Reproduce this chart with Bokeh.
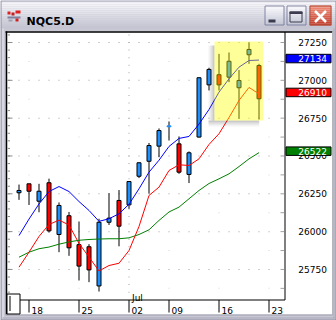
import datetime as dt
from bokeh.plotting import figure
from bokeh.models import Range1d
from bokeh.core.properties import value
from bokeh.embed import file_html
from bokeh.resources import INLINE

# ---------------- data ----------------
TITLE = "NQC5.D"
DATES = ["2018-06-15", "2018-06-18", "2018-06-19", "2018-06-20", "2018-06-21", "2018-06-22",
         "2018-06-25", "2018-06-26", "2018-06-27", "2018-06-28", "2018-06-29",
         "2018-07-02", "2018-07-03", "2018-07-05", "2018-07-06",
         "2018-07-09", "2018-07-10", "2018-07-11", "2018-07-12", "2018-07-13",
         "2018-07-16", "2018-07-17", "2018-07-18", "2018-07-19", "2018-07-20"]
OPEN = [26257, 26316, 26201, 26323, 25981, 26105, 25914, 25900, 25641, 26062, 26206, 26177, 26366,
        26465, 26565, 26693, 26580, 26378, 26625, 26970, 27037, 27021, 26951, 27169, 27098]
HIGH = [26311, 26316, 26316, 26350, 26193, 26130, 26067, 25917, 26085, 26254, 26275, 26333, 26458,
        26586, 26682, 26728, 26629, 26530, 27020, 27083, 27175, 27184, 27068, 27250, 27109]
LOW = [26210, 26176, 26128, 25994, 25864, 25840, 25677, 25666, 25604, 26044, 25903, 26151, 26354,
       26252, 26492, 26602, 26382, 26321, 26622, 26933, 26933, 26988, 26746, 27109, 26741]
CLOSE = [26272, 26267, 26267, 26005, 26173, 25893, 25772, 25747, 26062, 26089, 26036, 26331, 26455,
         26569, 26668, 26699, 26393, 26521, 27017, 27072, 26970, 27126, 26999, 27204, 26878]
MA_BLUE = [25974, 26083, 26183, 26265, 26298, 26265, 26199, 26140, 26068, 26085, 26118, 26181, 26283,
           26393, 26472, 26563, 26616, 26629, 26711, 26807, 26922, 27010, 27087, 27131, 27134]
MA_RED = [25765, 25864, 25968, 26047, 26076, 26044, 25922, 25832, 25740, 25776, 25791, 25875, 26034,
          26239, 26294, 26404, 26442, 26437, 26481, 26576, 26647, 26754, 26867, 26953, 26910]
MA_GREEN = [25831, 25864, 25887, 25898, 25917, 25932, 25943, 25948, 25951, 25953, 25953, 25959, 25981,
            26012, 26074, 26130, 26162, 26217, 26272, 26318, 26349, 26382, 26430, 26481, 26522]
PRICE_LABELS = [25750, 26000, 26250, 26500, 26750, 27000, 27250]
HIGHLIGHT = ("2018-07-16", "2018-07-20")

# ---------------- styles ----------------
UP, DOWN = "#1e90ff", "#ff0000"
FRAME = "#c8c8d4"
FONT = value("DejaVu Sans")

W, H = 336, 320
X_LO, X_HI = -1.85, 31.75
Y_LO, Y_HI = 25412.6, 27527.6
DX = (X_HI - X_LO) / W
DY = (Y_HI - Y_LO) / H

p = figure(width=W, height=H, x_range=Range1d(X_LO, X_HI), y_range=Range1d(Y_LO, Y_HI),
           output_backend="svg", toolbar_location=None, x_axis_location=None, y_axis_location=None,
           min_border=0, min_border_left=0, min_border_right=0, min_border_top=0, min_border_bottom=0,
           background_fill_color=FRAME, border_fill_color=FRAME, outline_line_color=None)
p.grid.grid_line_color = None
p.extra_x_ranges = {"px": Range1d(0, W)}
p.extra_y_ranges = {"px": Range1d(H, 0)}
PX = dict(x_range_name="px", y_range_name="px")


def box(l, r, t, b, fill=None, line=None, lw=1, alpha=1.0, **kw):
    rn = kw if kw else PX
    p.quad(left=[l], right=[r], top=[t], bottom=[b], fill_color=fill, line_color=line,
           line_width=lw, fill_alpha=alpha, **rn)


def seg(x0, y0, x1, y1, color="black", lw=1, **kw):
    rn = kw if kw else PX
    p.segment(x0=[x0], y0=[y0], x1=[x1], y1=[y1], line_color=color, line_width=lw, **rn)


# ---------------- window chrome ----------------
for k in range(14):
    t = k / 13
    c = tuple(int(a + (b - a) * t) for a, b in zip((250, 250, 253), (196, 196, 210)))
    box(0, W, 2 * k, 2 * k + 2, fill="#%02x%02x%02x" % c)
box(0.5, W - 0.5, 0.5, H - 0.5, line="#8a8aa2")
seg(2.5, 28, 2.5, 318, color="#e6e6ee")
seg(2, 317.5, 334, 317.5, color="#a6a6b6")
seg(333.5, 28, 333.5, 318, color="#a6a6b6")

# icon
box(7, 10, 11, 14, fill="#e02020")
box(11, 14, 12, 15, fill="#c02020")
box(15, 20, 10, 13, fill="#e02020")
box(7, 20, 16, 18, fill="#8080a0")
box(15, 18, 18, 21, fill="#d02020")
box(8, 12, 19, 21, fill="#a0a0b0")
p.text(x=[26], y=[20.8], text=[TITLE], text_font=FONT, text_font_style="bold", text_font_size="11px",
       text_baseline="alphabetic", text_color="#000000", **PX)


def button(x0, x1, top_rgb, bot_rgb, border):
    for k in range(10):
        t = k / 9
        c = tuple(int(a + (b - a) * t) for a, b in zip(top_rgb, bot_rgb))
        box(x0, x1, 5 + 2 * k, 7 + 2 * k, fill="#%02x%02x%02x" % c)
    box(x0 + 0.5, x1 - 0.5, 5.5, 24.5, line=border)


button(264, 284, (252, 252, 255), (196, 198, 214), "#7f82a0")
button(286, 306, (252, 252, 255), (196, 198, 214), "#7f82a0")
button(309, 331, (240, 140, 120), (200, 60, 40), "#b05040")
box(268, 275, 19, 22, fill="#3c3c50")
box(289.5, 301.5, 11.5, 21.5, line="#3c3c50")
box(289, 302, 11, 13.5, fill="#3c3c50")
seg(314.5, 10.5, 325.5, 21.5, color="white", lw=2.5)
seg(325.5, 10.5, 314.5, 21.5, color="white", lw=2.5)

# client panel
box(6, 332, 31, 314, fill="white")
seg(5, 31.5, 332, 31.5, color="black", lw=1.5)
seg(6, 31, 6, 314, color="black", lw=1.5)
seg(332, 31, 332, 314.5, color="#b4b4bc")
seg(5, 314.5, 332, 314.5, color="#9c9cac")

# ---------------- grid & ticks ----------------
n = len(DATES)
idx = list(range(n))
days = [dt.date.fromisoformat(d) for d in DATES]
mondays = [i for i, d in enumerate(days) if d.weekday() == 0]
week_ticks = [(i, "%02d" % days[i].day) for i in mondays]
nxt = days[-1] + dt.timedelta(days=1)
extra = 1
while nxt.weekday() != 0:
    if nxt.weekday() < 5:
        extra += 1
    nxt += dt.timedelta(days=1)
week_ticks.append((n - 1 + extra, "%02d" % nxt.day))
month_idx = [i for i in range(1, n) if days[i].month != days[i - 1].month]

p_top = Y_HI - 32 * DY
p_bot = Y_HI - 299 * DY
lv50 = [v for v in range(25000, 28000, 50) if p_bot < v < p_top]
lv125 = [v for v in range(25000, 28000, 125) if p_bot < v < p_top]
grid_cols = list(range(0, n + 1))

gx, gy = [], []
for lv in PRICE_LABELS:
    for c in grid_cols:
        gx.append(c)
        gy.append(lv)
for mi in month_idx:
    for lv in lv50:
        gx.append(mi)
        gy.append(lv)
p.rect(x=gx, y=gy, width=1, height=1, width_units="screen", height_units="screen",
       fill_color="#a4a4a4", line_color=None)
fx, fy = [], []
for c, _ in week_ticks:
    if c in month_idx:
        continue
    for lv in lv125:
        if lv % 250:
            fx.append(c)
            fy.append(lv)
p.rect(x=fx, y=fy, width=1, height=1, width_units="screen", height_units="screen",
       fill_color="#d6d6d6", line_color=None)

p.segment(x0=[7] * len(lv50), x1=[9.5] * len(lv50), y0=lv50, y1=lv50, line_color="#8c8c8c",
          x_range_name="px")
p.segment(x0=[7] * len(PRICE_LABELS), x1=[12] * len(PRICE_LABELS), y0=PRICE_LABELS, y1=PRICE_LABELS,
          line_color="#8c8c8c", x_range_name="px")
p.segment(x0=[280] * len(lv125), x1=[283.5] * len(lv125), y0=lv125, y1=lv125, line_color="#a0a0a0",
          x_range_name="px")

# ---------------- candles ----------------
fills = [UP if c >= o else DOWN for o, c in zip(OPEN, CLOSE)]
edges = ["#000000" if abs(c - o) > 8 else f for o, c, f in zip(OPEN, CLOSE, fills)]
p.segment(x0=idx, x1=idx, y0=LOW, y1=HIGH, line_color="black", line_width=1)
p.quad(left=[i - 0.2 for i in idx], right=[i + 0.2 for i in idx],
       bottom=[min(o, c) for o, c in zip(OPEN, CLOSE)], top=[max(o, c) for o, c in zip(OPEN, CLOSE)],
       fill_color=fills, line_color=edges, line_width=1)

p.line(idx, MA_GREEN, line_color="#008000", line_width=1)
p.line(idx, MA_RED, line_color="#ff0000", line_width=1)
p.line(idx, MA_BLUE, line_color="#0000ff", line_width=1)

# ---------------- highlight ----------------
h0, h1 = DATES.index(HIGHLIGHT[0]), DATES.index(HIGHLIGHT[1])
hl_l, hl_r = h0 - 0.45, h1 + 0.42
hl_t = max(HIGH[h0:h1 + 1]) + 1 * DY
hl_b = min(LOW[h0:h1 + 1]) - 1 * DY
for k, a in enumerate([0.30, 0.17, 0.07]):
    box(hl_l - (k + 1) * 2 * DX, hl_l - k * 2 * DX, hl_t - 4 * DY, hl_b, fill="#505050", alpha=a,
        x_range_name="default", y_range_name="default")
    box(hl_l - 6 * DX, hl_r - 4 * DX, hl_b - k * 2 * DY, hl_b - (k + 1) * 2 * DY, fill="#505050",
        alpha=a, x_range_name="default", y_range_name="default")
box(hl_l, hl_r, hl_t, hl_b, fill="#ffff00", alpha=0.4, x_range_name="default", y_range_name="default")

# ---------------- axes frames ----------------
seg(284.5, 31.5, 284.5, 299.5)
seg(19.5, 299.5, 284.5, 299.5)
box(6.5, 19.5, 293.5, 313.5, fill="white", line="black")
seg(9.5, 295.5, 9.5, 310.5)

tk = [c for c, _ in week_ticks]
p.segment(x0=tk, x1=tk, y0=[299.5] * len(tk), y1=[312] * len(tk), line_color="black",
          y_range_name="px")
p.text(x=[c + 0.25 for c in tk], y=[309.8] * len(tk), text=[t for _, t in week_ticks],
       text_font=FONT, text_font_size="9px", text_baseline="alphabetic", text_color="black",
       y_range_name="px")
p.text(x=[m + 0.3 for m in month_idx], y=[297.8] * len(month_idx),
       text=[days[m].strftime("%b") for m in month_idx], text_font=FONT, text_font_size="9px",
       text_baseline="alphabetic", text_color="black", y_range_name="px")

p.text(x=[326.5] * len(PRICE_LABELS), y=PRICE_LABELS, text=[str(v) for v in PRICE_LABELS],
       text_font=FONT, text_font_size="9px", text_align="right", text_baseline="middle",
       text_color="black", x_range_name="px")

for ma, col in [(MA_GREEN, "#008000"), (MA_RED, "#ff0000"), (MA_BLUE, "#0000ff")]:
    v = ma[-1]
    p.quad(left=[285.5], right=[330.5], top=[v + 5.75 * DY], bottom=[v - 2.75 * DY],
           fill_color=col, line_color="black", line_width=1, x_range_name="px")
    p.text(x=[326.5], y=[v + 1.5 * DY], text=[str(v)], text_font=FONT, text_font_size="9px",
           text_align="right", text_baseline="middle", text_color="white", x_range_name="px")

open("out.html", "w").write(file_html(p, INLINE))
